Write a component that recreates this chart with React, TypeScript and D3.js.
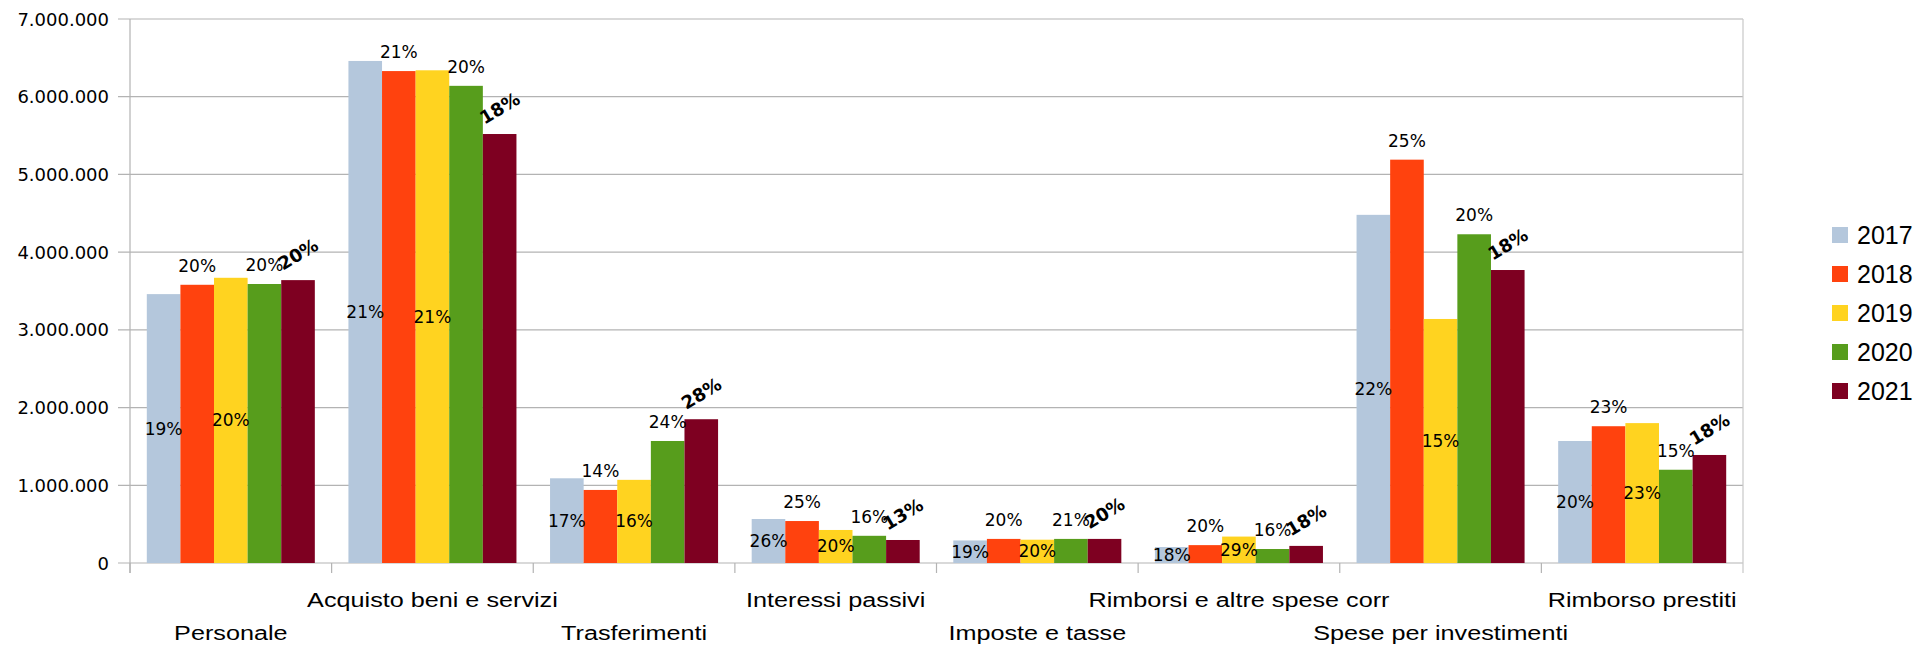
import React from "react";
import * as d3 from "d3";

const categories = [
  "Personale",
  "Acquisto beni e servizi",
  "Trasferimenti",
  "Interessi passivi",
  "Imposte e tasse",
  "Rimborsi e altre spese corr",
  "Spese per investimenti",
  "Rimborso prestiti",
];

const years = ["2017", "2018", "2019", "2020", "2021"];
const colors = ["#b4c7dc", "#ff420e", "#ffd320", "#579d1c", "#7e0021"];

// values
const values2017 = [3460000, 6460000, 1090000, 566000, 290000, 206000, 4480000, 1570000];
const values2018 = [3580000, 6330000, 940000, 540000, 310000, 230000, 5190000, 1760000];
const values2019 = [3670000, 6340000, 1070000, 425000, 300000, 340000, 3140000, 1800000];
const values2020 = [3590000, 6140000, 1570000, 350000, 310000, 180000, 4230000, 1200000];
const values2021 = [3640000, 5520000, 1850000, 296000, 310000, 220000, 3770000, 1390000];

// percentage labels shown on bars
const pct2017 = [19, 21, 17, 26, 19, 18, 22, 20];
const pct2018 = [20, 21, 14, 25, 20, 20, 25, 23];
const pct2019 = [20, 21, 16, 20, 20, 29, 15, 23];
const pct2020 = [20, 20, 24, 16, 21, 16, 20, 15];
const pct2021 = [20, 18, 28, 13, 20, 18, 18, 18];

const yTicks = [0, 1000000, 2000000, 3000000, 4000000, 5000000, 6000000, 7000000];

const seriesValues = [values2017, values2018, values2019, values2020, values2021];
const seriesPct = [pct2017, pct2018, pct2019, pct2020, pct2021];

const W = 1914;
const H = 646;

const App: React.FC = () => {
  const left = 130;
  const right = 1743;
  const top = 19;
  const bottom = 563;

  const x = d3.scaleBand<string>().domain(categories).range([left, right]).padding(0);
  const xs = d3
    .scaleBand<string>()
    .domain(years)
    .range([0, x.bandwidth()])
    .paddingInner(0)
    .paddingOuter(0.5);
  const y = d3.scaleLinear().domain([0, 7000000]).range([bottom, top]);

  const fmt = (v: number) => d3.format(",")(v).replace(/,/g, ".");

  const pctFont = "'DejaVu Sans', sans-serif";

  return (
    <svg
      width={W}
      height={H}
      style={{ position: "absolute", left: 0, top: 0, background: "#fff" }}
    >
      <rect x={0} y={0} width={W} height={H} fill="#fff" />

      {/* grid + y axis */}
      {yTicks.map(t => (
        <g key={t}>
          <line x1={left - 12} x2={right} y1={y(t)} y2={y(t)} stroke="#b3b3b3" strokeWidth={1.2} />
          <text
            x={109}
            y={y(t)}
            textAnchor="end"
            dominantBaseline="central"
            fontFamily={pctFont}
            fontSize={18}
            fill="#000"
          >
            {fmt(t)}
          </text>
        </g>
      ))}
      <line x1={left} x2={left} y1={top} y2={bottom + 10} stroke="#b3b3b3" strokeWidth={1.2} />
      <line x1={right} x2={right} y1={top} y2={bottom + 10} stroke="#c8c8c8" strokeWidth={1.2} />
      {categories.map(c => (
        <line
          key={c}
          x1={x(c)!}
          x2={x(c)!}
          y1={bottom}
          y2={bottom + 10}
          stroke="#b3b3b3"
          strokeWidth={1.2}
        />
      ))}

      {/* bars */}
      {years.map((yr, si) => (
        <g key={yr} fill={colors[si]}>
          {categories.map((c, ci) => {
            const v = seriesValues[si][ci];
            return (
              <rect
                key={c}
                x={x(c)! + xs(yr)!}
                y={y(v)}
                width={xs.bandwidth()}
                height={bottom - y(v)}
              />
            );
          })}
        </g>
      ))}

      {/* percentage labels */}
      {years.map((yr, si) => (
        <g key={"l" + yr}>
          {categories.map((c, ci) => {
            const v = seriesValues[si][ci];
            const cx = x(c)! + xs(yr)! + xs.bandwidth() / 2;
            const label = seriesPct[si][ci] + "%";
            if (si === 0 || si === 2) {
              return (
                <text
                  key={c}
                  x={cx}
                  y={(y(v) + bottom) / 2}
                  textAnchor="middle"
                  dominantBaseline="central"
                  fontFamily={pctFont}
                  fontSize={17}
                  fill="#000"
                >
                  {label}
                </text>
              );
            }
            if (si === 4) {
              return (
                <text
                  key={c}
                  transform={`translate(${cx},${y(v) - 26}) rotate(-31)`}
                  textAnchor="middle"
                  dominantBaseline="central"
                  fontFamily={pctFont}
                  fontWeight="bold"
                  fontSize={18}
                  fill="#000"
                >
                  {label}
                </text>
              );
            }
            return (
              <text
                key={c}
                x={cx}
                y={y(v) - 13}
                textAnchor="middle"
                fontFamily={pctFont}
                fontSize={17}
                fill="#000"
              >
                {label}
              </text>
            );
          })}
        </g>
      ))}

      {/* category labels, staggered on two rows */}
      {categories.map((c, i) => (
        <text
          key={"c" + c}
          transform={`translate(${x(c)! + x.bandwidth() / 2},${i % 2 === 0 ? 640 : 607}) scale(1.2,1)`}
          textAnchor="middle"
          fontFamily="'Liberation Sans', Arial, sans-serif"
          fontSize={21}
          fill="#000"
        >
          {c}
        </text>
      ))}

      {/* legend */}
      {years.map((yr, i) => (
        <g key={"lg" + yr} transform={`translate(1832,${235 + i * 39})`}>
          <rect x={0} y={-8} width={16} height={16} fill={colors[i]} />
          <text
            x={25}
            y={0}
            dominantBaseline="central"
            fontFamily="'Liberation Sans', Arial, sans-serif"
            fontSize={25}
            fill="#000"
          >
            {yr}
          </text>
        </g>
      ))}
    </svg>
  );
};

export default App;
